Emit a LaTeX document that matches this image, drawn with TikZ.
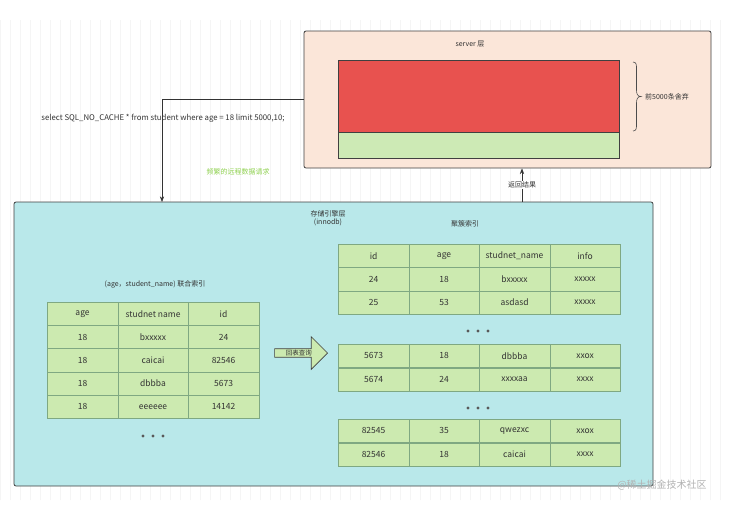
\documentclass[tikz,border=0pt]{standalone}
\usepackage{fontspec}
\setmainfont{Noto Sans CJK SC}
\usetikzlibrary{arrows.meta, calc, positioning, shapes.arrows}

\definecolor{serverbg}{HTML}{FBE6D9}
\definecolor{enginebg}{HTML}{B9E8EA}
\definecolor{dropred}{HTML}{E8524F}
\definecolor{keepgreen}{HTML}{CDEAB5}
\definecolor{cellgreen}{HTML}{CCEAB0}
\definecolor{cellline}{HTML}{7FA882}
\definecolor{txt}{HTML}{333333}
\definecolor{notegreen}{HTML}{8FD14F}

\tikzset{
  layer/.style={draw=black!75, line width=0.8pt, rounded corners=2pt, inner sep=0pt},
  block/.style={draw=black!75, line width=0.6pt, inner sep=0pt, minimum width=281pt},
  cell/.style={draw=cellline, fill=cellgreen, line width=0.6pt, inner sep=0pt,
    minimum width=70.5pt, minimum height=23.3pt, anchor=north west, text=txt,
    font=\fontsize{8.5}{10}\selectfont},
  small/.style={font=\fontsize{7}{8.5}\selectfont, text=txt, inner sep=1pt},
  dot/.style={circle, fill=black!65, inner sep=0pt, minimum size=3.4pt}
}

\begin{document}
\begin{tikzpicture}[x=1pt, y=-1pt, >=Stealth]
  \useasboundingbox[fill=white] (0,0) rectangle (730,507);
  % faint editor grid
  \draw[black!4, step=10] (0,20) grid (730,500);

  % server layer
  \node[layer, fill=serverbg, minimum width=407pt, minimum height=137pt] (server) at (507.5,99.5) {};
  \node[small] (serverlbl) at (470,44) {server 层};
  \node[block, fill=dropred, minimum height=72pt] (drop) at (478.5,96) {};
  \node[block, fill=keepgreen, minimum height=26pt, below=0pt of drop] (keep) {};
  % brace over the dropped rows
  \draw[black!70, line width=0.6pt] (633,62) .. controls (636.5,62) and (636.5,65) .. (636.5,69)
    -- (636.5,90) .. controls (636.5,94) and (637.5,96.5) .. (641,96.5)
    .. controls (637.5,96.5) and (636.5,99) .. (636.5,103)
    -- (636.5,124) .. controls (636.5,128) and (636.5,131) .. (633,131);
  \node[small, anchor=west] (droplbl) at (644,97) {前5000条舍弃};

  % storage engine layer
  \node[layer, fill=enginebg, minimum width=639pt, minimum height=284pt] (engine) at (333.5,344) {};
  \node[small, align=center] (enginelbl) at (328,218) {存储引擎层\\(innodb)};
  \node[small] (clusterlbl) at (465,224) {聚簇索引};
  \node[small] (unionlbl) at (155,284) {(age，student\_name) 联合索引};

  % query going down, result going up
  \coordinate (qin) at (162,202);
  \coordinate (ret) at (522,0);
  \draw[->, black!80, line width=0.6pt] (server.west) -| (qin);
  \node[small, font=\fontsize{7.8}{9}\selectfont] (sql) at (163,118)
    {select SQL\_NO\_CACHE * from student where age = 18 limit 5000,10;};
  \node[small, text=notegreen] (note) at (238,172) {频繁的远程数据请求};
  \draw[->, black!80, line width=0.6pt] (engine.north -| ret) -- (server.south -| ret)
    node[midway, small, fill=white] (retlbl) {返回结果};

  % secondary index table
  \foreach \a/\b/\c [count=\i from 0] in
    {age/studnet name/id, 18/bxxxxx/24, 18/caicai/82546, 18/dbbba/5673, 18/eeeeee/14142} {
    \node[cell] (L\i a) at (47,302+23.2*\i) {\a};
    \node[cell] (L\i b) at (117.5,302+23.2*\i) {\b};
    \node[cell] (L\i c) at (188,302+23.2*\i) {\c};
  }
  \foreach \x in {143,153,163} \node[dot] at (\x,436) {};

  % clustered index table
  \foreach \y/\a/\b/\c/\d [count=\i] in
    {244/id/age/studnet\_name/info, 267.3/24/18/bxxxxx/xxxxx, 290.6/25/53/asdasd/xxxxx,
     344/5673/18/dbbba/xxox, 367.5/5674/24/xxxxaa/xxxx,
     419/82545/35/qwezxc/xxox, 442.5/82546/18/caicai/xxxx} {
    \node[cell] (R\i a) at (338,\y) {\a};
    \node[cell] (R\i b) at (408.5,\y) {\b};
    \node[cell] (R\i c) at (479,\y) {\c};
    \node[cell] (R\i d) at (549.5,\y) {\d};
  }
  \foreach \y in {331,408}
    \foreach \x in {468,478,488} \node[dot] at (\x,\y) {};

  % lookup back to the table
  \node[single arrow, draw=black!75, fill=cellgreen, line width=0.6pt,
    minimum height=53pt, single arrow head extend=12pt, inner xsep=1pt, inner ysep=2.5pt,
    anchor=tip, small, font=\fontsize{6.5}{8}\selectfont] (lookup) at (328,353) {回表查询};

  % watermark
  \node[text=black!30, font=\fontsize{10}{12}\selectfont] (mark) at (662,485) {@稀土掘金技术社区};
\end{tikzpicture}
\end{document}
